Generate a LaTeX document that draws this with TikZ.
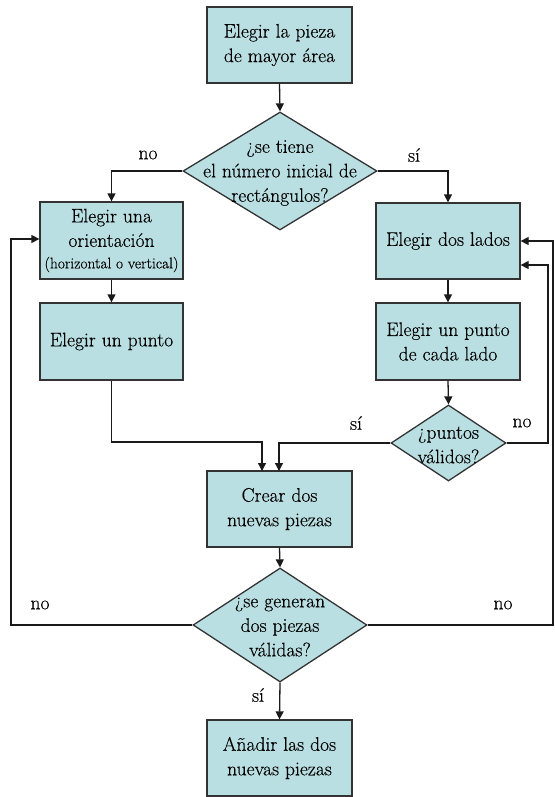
\documentclass[tikz,border=0pt]{standalone}
\usepackage{fontspec}
\setmainfont{Latin Modern Roman}[UprightFeatures={FakeBold=0.3}]
\usetikzlibrary{shapes.geometric,arrows.meta}
\definecolor{boxfill}{HTML}{BADFE2}
\definecolor{edge}{HTML}{333333}
\definecolor{wire}{HTML}{1A1A1A}
\begin{document}
\begin{tikzpicture}[x=1pt,y=-1pt,
  stepbox/.style={draw=edge,line width=1.3pt,fill=boxfill,minimum width=145pt,minimum height=76pt,
    inner sep=0pt,align=center,font=\fontsize{19.6}{24.5}\selectfont},
  decision/.style={draw=edge,line width=1.3pt,fill=boxfill,diamond,inner sep=0pt},
  dtext/.style={align=center,font=\fontsize{19.6}{24.5}\selectfont},
  lbl/.style={font=\fontsize{19.6}{24}\selectfont},
  flow/.style={draw=wire,line width=1.3pt,-{Triangle[length=8pt,width=8pt]}}]
\useasboundingbox (0,0) rectangle (554,797);

% process boxes
\node[stepbox] (pick) at (279.5,45) {Elegir la pieza\\de mayor área};
\node[stepbox,minimum width=143pt,minimum height=77pt] (orient) at (111.5,240.5)
  {Elegir una\\orientación\\[-3pt]{\fontsize{15.4}{19}\selectfont(horizontal o vertical)}};
\node[stepbox,minimum width=143pt,minimum height=77pt] (point) at (111.5,341.5) {Elegir un punto};
\node[stepbox,minimum width=144pt] (sides) at (448,241) {Elegir dos lados};
\node[stepbox,minimum width=144pt,minimum height=77pt] (points) at (448,341.5) {Elegir un punto\\de cada lado};
\node[stepbox] (create) at (279.5,509) {Crear dos\\nuevas piezas};
\node[stepbox] (add) at (279.5,758) {Añadir las dos\\nuevas piezas};

% decisions
\node[decision,minimum width=194pt,minimum height=118pt] (count) at (280,171) {};
\node[dtext] at (280,173) {¿se tiene\\el número inicial de\\rectángulos?};
\node[decision,minimum width=115pt,minimum height=76pt] (valid) at (448.5,443) {};
\node[dtext] at (448.5,445) {¿puntos\\válidos?};
\node[decision,minimum width=174pt,minimum height=114pt] (gen) at (280,625) {};
\node[dtext] at (280,627) {¿se generan\\dos piezas\\válidas?};

% loop-back corners
\coordinate (lcorner) at (11,625);
\coordinate (rcorner) at (553,625);

% connectors
\draw[flow] (pick.south) -- (count.north);
\draw[flow] (count.west) -| (orient.north);
\draw[flow] (count.east) -| (sides.north);
\draw[flow] (orient.south) -- (point.north);
\draw[flow] (sides.south) -- (points.north);
\draw[flow] (points.south) -- (valid.north);
\draw[flow] (point.south) |- (262,442) -- (262,471);
\draw[flow] (valid.west) -| (279,471);
\draw[flow] (valid.east) -| (548,265) -- (sides.east |- 0,265);
\draw[flow] (create.south) -- (gen.north);
\draw[flow] (gen.south) -- (add.north);
\draw[flow] (gen.west) -- (lcorner) -- (11,239) -- (orient.west |- 0,239);
\draw[flow] (gen.east) -- (rcorner) -- (553,241) -- (sides.east |- 0,241);

% branch labels
\node[lbl] (l1) at (148,155) {no};
\node[lbl] (l2) at (414,155) {sí};
\node[lbl] (l3) at (356,423) {sí};
\node[lbl] (l4) at (522,423) {no};
\node[lbl] (l5) at (40,605) {no};
\node[lbl] (l6) at (503,605) {no};
\node[lbl] (l7) at (258,695) {sí};
\end{tikzpicture}
\end{document}
